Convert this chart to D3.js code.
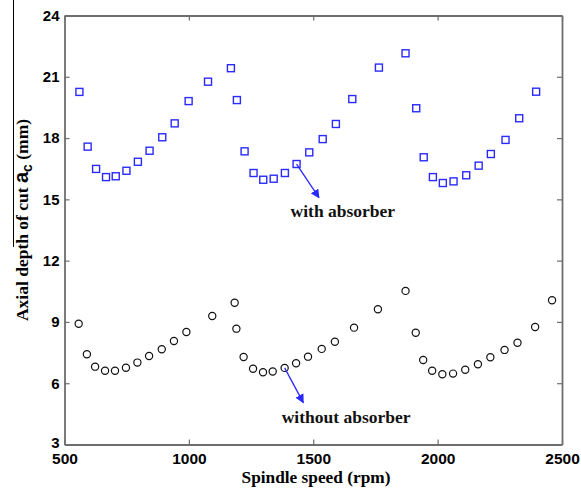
<!DOCTYPE html>
<html>
<head>
<meta charset="utf-8">
<script src="https://cdn.jsdelivr.net/npm/d3@7"></script>
<style>
  html, body { margin: 0; padding: 0; background: #fff; }
  svg { display: block; }
</style>
</head>
<body>
<svg id="chart" width="581" height="493"></svg>
<script>
// Spindle speed (rpm) and axial depth of cut (mm), with the absorber fitted
const withSpeed = [560, 593, 627, 667, 706, 749, 795, 842, 893, 943, 999, 1077, 1169,
  1193, 1224, 1260, 1299, 1341, 1386, 1433, 1484, 1538, 1591, 1657, 1764, 1871,
  1914, 1944, 1981, 2021, 2064, 2115, 2165, 2214, 2273, 2328, 2396];
const withDepth = [20.26, 17.58, 16.49, 16.09, 16.13, 16.40, 16.84, 17.38, 18.04, 18.72, 19.81, 20.76, 21.42,
  19.86, 17.35, 16.29, 15.96, 16.01, 16.29, 16.73, 17.30, 17.95, 18.69, 19.91, 21.45, 22.15,
  19.46, 17.06, 16.09, 15.80, 15.88, 16.18, 16.65, 17.22, 17.91, 18.97, 20.27];

// Same measurement without the absorber
const withoutSpeed = [557, 590, 623, 663, 703, 747, 793, 840, 891, 940, 990, 1094, 1184,
  1191, 1220, 1258, 1298, 1337, 1385, 1431, 1479, 1534, 1587, 1664, 1760, 1871,
  1912, 1942, 1978, 2019, 2062, 2111, 2162, 2212, 2269, 2321, 2392, 2460];
const withoutDepth = [8.91, 7.42, 6.81, 6.61, 6.61, 6.76, 7.01, 7.33, 7.66, 8.07, 8.51, 9.29, 9.94,
  8.67, 7.28, 6.71, 6.54, 6.57, 6.75, 6.98, 7.30, 7.68, 8.03, 8.72, 9.62, 10.52,
  8.47, 7.14, 6.61, 6.44, 6.47, 6.66, 6.93, 7.27, 7.63, 7.98, 8.75, 10.06];

const xTicks = [500, 1000, 1500, 2000, 2500];
const yTicks = [3, 6, 9, 12, 15, 18, 21, 24];

// Annotations: label text, index of the point the arrow leaves from,
// arrow tip and label start in data units
const annWith = { text: "with absorber", index: 19, tip: [1523, 15.08], label: [1409, 14.15] };
const annWithout = { text: "without absorber", index: 18, tip: [1460, 5.05], label: [1373, 4.07] };

const svg = d3.select("#chart");
const m = { left: 64.5, right: 562, top: 15.5, bottom: 444.5 };

const x = d3.scaleLinear().domain([500, 2500]).range([m.left, m.right]);
const y = d3.scaleLinear().domain([3, 24]).range([m.bottom, m.top]);

const frameColor = "#6e6e6e";
const blue = "#2a2aff";
const serif = "'Liberation Serif', 'Times New Roman', serif";
const sans = "'Liberation Sans', Arial, sans-serif";

svg.append("defs").append("marker")
  .attr("id", "arrowhead")
  .attr("viewBox", "0 0 10 10")
  .attr("refX", 9).attr("refY", 5)
  .attr("markerWidth", 9).attr("markerHeight", 9)
  .attr("markerUnits", "userSpaceOnUse")
  .attr("orient", "auto")
  .append("path")
  .attr("d", "M0,0 L10,5 L0,10 Z")
  .attr("fill", blue);

// Thin rule at the far left edge
svg.append("line")
  .attr("x1", 13.5).attr("x2", 13.5)
  .attr("y1", 0).attr("y2", 247)
  .attr("stroke", "#000").attr("stroke-width", 1);

// Axes with inward ticks on all four sides
const gBottom = svg.append("g")
  .attr("transform", `translate(0,${m.bottom})`)
  .call(d3.axisBottom(x).tickValues(xTicks).tickFormat(d3.format("d")).tickSizeInner(-5).tickSizeOuter(0).tickPadding(6));
const gTop = svg.append("g")
  .attr("transform", `translate(0,${m.top})`)
  .call(d3.axisTop(x).tickValues(xTicks).tickFormat("").tickSizeInner(-5).tickSizeOuter(0));
const gLeft = svg.append("g")
  .attr("transform", `translate(${m.left},0)`)
  .call(d3.axisLeft(y).tickValues(yTicks).tickFormat(d3.format("d")).tickSizeInner(-5).tickSizeOuter(0).tickPadding(5));
const gRight = svg.append("g")
  .attr("transform", `translate(${m.right},0)`)
  .call(d3.axisRight(y).tickValues(yTicks).tickFormat("").tickSizeInner(-5).tickSizeOuter(0));

[gBottom, gTop, gLeft, gRight].forEach(g => {
  g.select(".domain").attr("stroke", frameColor).attr("stroke-width", 1.8);
  g.selectAll(".tick line").attr("stroke", frameColor).attr("stroke-width", 1.2);
  g.selectAll(".tick text").attr("fill", "#000");
});
gBottom.selectAll(".tick text").style("font", `bold 15.5px ${sans}`).attr("dy", "0.9em");
gLeft.selectAll(".tick text").style("font", `bold 15px ${sans}`);
gLeft.selectAll(".tick text").filter(d => d === 3).attr("dy", "0.2em");

// Square markers: with absorber
const sq = 7;
svg.append("g").selectAll("rect")
  .data(withSpeed.map((s, i) => [s, withDepth[i]]))
  .join("rect")
  .attr("x", d => x(d[0]) - sq / 2)
  .attr("y", d => y(d[1]) - sq / 2)
  .attr("width", sq).attr("height", sq)
  .attr("fill", "none")
  .attr("stroke", blue)
  .attr("stroke-width", 1.4);

// Circle markers: without absorber
svg.append("g").selectAll("circle")
  .data(withoutSpeed.map((s, i) => [s, withoutDepth[i]]))
  .join("circle")
  .attr("cx", d => x(d[0]))
  .attr("cy", d => y(d[1]))
  .attr("r", 3.6)
  .attr("fill", "none")
  .attr("stroke", "#111")
  .attr("stroke-width", 1.2);

// Annotation arrows and labels
function annotate(a, speeds, depths) {
  svg.append("line")
    .attr("x1", x(speeds[a.index])).attr("y1", y(depths[a.index]))
    .attr("x2", x(a.tip[0])).attr("y2", y(a.tip[1]))
    .attr("stroke", blue).attr("stroke-width", 1.3)
    .attr("marker-end", "url(#arrowhead)");
  svg.append("text")
    .attr("x", x(a.label[0])).attr("y", y(a.label[1]))
    .style("font", `bold 17.5px ${serif}`)
    .attr("fill", "#111")
    .text(a.text);
}
annotate(annWith, withSpeed, withDepth);
annotate(annWithout, withoutSpeed, withoutDepth);

// Axis titles
svg.append("text")
  .attr("x", 316).attr("y", 483)
  .attr("text-anchor", "middle")
  .style("font", `bold 17.3px ${serif}`)
  .text("Spindle speed (rpm)");

const yTitle = svg.append("text")
  .attr("transform", "translate(28,220) rotate(-90)")
  .attr("text-anchor", "middle")
  .style("font", `bold 17.5px ${serif}`);
yTitle.append("tspan").text("Axial depth of cut ");
yTitle.append("tspan").style("font", `bold 20px ${sans}`).text("a");
yTitle.append("tspan").attr("dy", 4).style("font", `bold 14px ${sans}`).text("c");
yTitle.append("tspan").attr("dy", -4).text(" (mm)");
</script>
</body>
</html>
